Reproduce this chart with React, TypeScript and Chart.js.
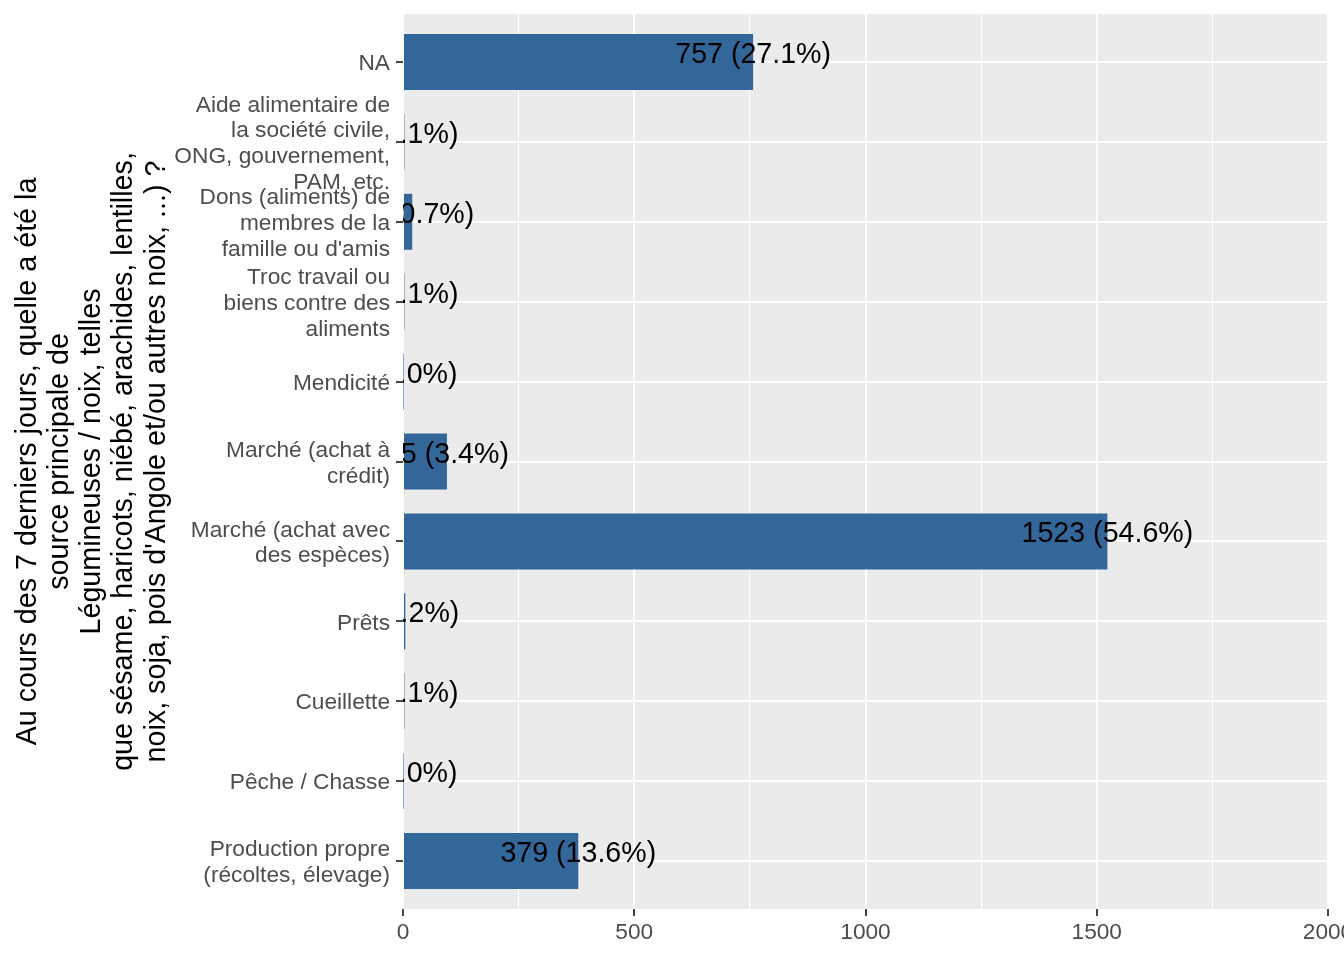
import React, { useEffect, useRef } from "react";
import { Chart, registerables } from "chart.js";

Chart.register(...registerables);

const categories: (string | string[])[] = [
  "NA",
  ["Aide alimentaire de", "la société civile,", "ONG, gouvernement,", "PAM, etc."],
  ["Dons (aliments) de", "membres de la", "famille ou d'amis"],
  ["Troc travail ou", "biens contre des", "aliments"],
  "Mendicité",
  ["Marché (achat à", "crédit)"],
  ["Marché (achat avec", "des espèces)"],
  "Prêts",
  "Cueillette",
  "Pêche / Chasse",
  ["Production propre", "(récoltes, élevage)"],
];

const counts = [757, 3, 20, 3, 1, 95, 1523, 5, 3, 1, 379];

const xTicks = [0, 250, 500, 750, 1000, 1250, 1500, 1750, 2000];
const xMajorTicks = [0, 500, 1000, 1500, 2000];

const yTitle = [
  "Au cours des 7 derniers jours, quelle a été la",
  "source principale de",
  "Légumineuses / noix, telles",
  "que sésame, haricots, niébé, arachides, lentilles,",
  "noix, soja, pois d'Angole et/ou autres noix, ...) ?",
];

const FONT = '"Liberation Sans", Arial, Helvetica, sans-serif';

export default function App() {
  const ref = useRef<HTMLCanvasElement>(null);

  useEffect(() => {
    if (!ref.current) return;
    Chart.defaults.font.family = FONT;
    const total = counts.reduce((a, b) => a + b, 0);
    const labels = counts.map((c) => `${c} (${((c / total) * 100).toFixed(1)}%)`);

    const panelBg = {
      id: "panelBg",
      beforeDraw(chart: any) {
        const { ctx, chartArea: a } = chart;
        ctx.save();
        ctx.fillStyle = "#EBEBEB";
        ctx.fillRect(a.left, a.top, a.right - a.left, a.bottom - a.top);
        ctx.restore();
      },
    };

    const dataLabels = {
      id: "dataLabels",
      afterDatasetsDraw(chart: any) {
        const { ctx, chartArea: a, scales } = chart;
        ctx.save();
        ctx.beginPath();
        ctx.rect(a.left, a.top, a.right - a.left, a.bottom - a.top);
        ctx.clip();
        ctx.font = `28.6px ${FONT}`;
        ctx.fillStyle = "#000000";
        ctx.textAlign = "center";
        ctx.textBaseline = "alphabetic";
        counts.forEach((c, i) => {
          ctx.fillText(labels[i], scales.x.getPixelForValue(c), scales.y.getPixelForValue(i) + 1);
        });
        ctx.restore();
      },
    };

    const chart = new Chart(ref.current, {
      type: "bar",
      data: {
        datasets: [
          {
            data: counts.map((c, i) => ({ x: c, y: i })),
            backgroundColor: "#336699",
            borderWidth: 0,
            barPercentage: 0.7,
            categoryPercentage: 1,
          },
        ],
      },
      options: {
        indexAxis: "y",
        animation: false,
        responsive: true,
        maintainAspectRatio: false,
        layout: { padding: { top: 14, right: 16, bottom: 0, left: 0 } },
        plugins: { legend: { display: false }, tooltip: { enabled: false } },
        scales: {
          x: {
            type: "linear",
            position: "bottom",
            min: 0,
            max: 2000,
            offset: false,
            afterBuildTicks: (s: any) => {
              s.ticks = xTicks.map((v) => ({ value: v }));
            },
            afterFit: (s: any) => {
              s.height = 51;
              s.paddingLeft = 0;
              s.paddingRight = 0;
            },
            grid: {
              offset: false,
              color: "#FFFFFF",
              lineWidth: (ctx: any) => (ctx.tick && xMajorTicks.includes(ctx.tick.value) ? 2 : 1),
              tickColor: (ctx: any) =>
                ctx.tick && xMajorTicks.includes(ctx.tick.value) ? "#333333" : "rgba(0,0,0,0)",
              tickLength: 7,
              tickWidth: 1.8,
            },
            border: { display: false },
            ticks: {
              autoSkip: false,
              maxRotation: 0,
              padding: 4,
              color: "#4D4D4D",
              font: { size: 22.7, lineHeight: 1.13 },
              callback: (v: any) => (xMajorTicks.includes(v) ? String(v) : ""),
            },
          },
          y: {
            type: "linear",
            min: -0.6,
            max: 10.6,
            reverse: true,
            offset: false,
            afterBuildTicks: (s: any) => {
              s.ticks = categories.map((_, i) => ({ value: i }));
            },
            afterFit: (s: any) => {
              s.width = 403;
              s.paddingTop = 0;
              s.paddingBottom = 0;
            },
            grid: {
              offset: false,
              color: "#FFFFFF",
              lineWidth: 2,
              tickColor: "#333333",
              tickLength: 7,
              tickWidth: 1.8,
            },
            border: { display: false },
            ticks: {
              autoSkip: false,
              padding: 6,
              labelOffset: 2,
              color: "#4D4D4D",
              font: { size: 22.7, lineHeight: 1.13 },
              callback: (v: any) => categories[v] as any,
            },
            title: {
              display: true,
              text: yTitle,
              color: "#000000",
              font: { size: 28.7, lineHeight: 1.12 },
              padding: { top: 12, bottom: 0 },
            },
          },
        },
      } as any,
      plugins: [panelBg, dataLabels],
    });

    return () => chart.destroy();
  }, []);

  return (
    <div
      style={{
        position: "fixed",
        left: 0,
        top: 0,
        width: 1344,
        height: 960,
        background: "#FFFFFF",
      }}
    >
      <canvas ref={ref} style={{ display: "block" }} />
    </div>
  );
}
